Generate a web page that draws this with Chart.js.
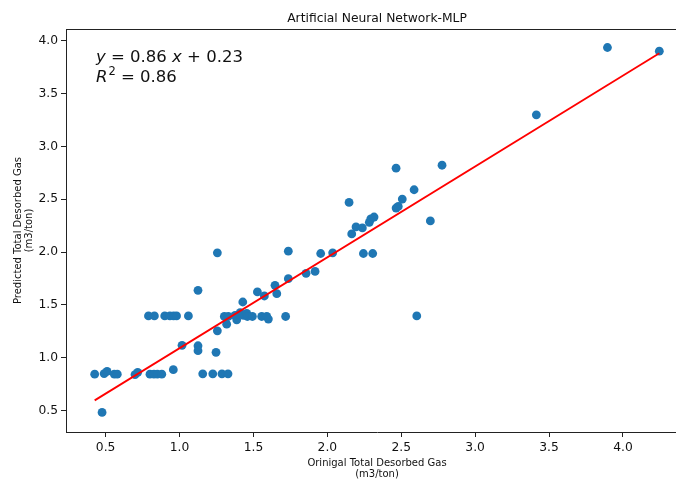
<!DOCTYPE html>
<html>
<head>
<meta charset="utf-8">
<script src="https://cdn.jsdelivr.net/npm/chart.js@4"></script>
<style>
  html, body { margin: 0; padding: 0; background: #fff; overflow: hidden; }
  #wrap { width: 676px; height: 479px; position: relative; overflow: hidden; }
</style>
</head>
<body>
<div id="wrap"><canvas id="c" width="700" height="479"></canvas></div>
<script>
// Original vs. predicted total desorbed gas (m3/ton)
const originalGas = [
  0.426, 0.49, 0.51, 0.559, 0.579, 0.476, 0.699, 0.717, 0.80, 0.827, 0.85, 0.88, 0.958, 1.017,
  0.79, 0.83, 0.90, 0.935, 0.96, 0.98, 1.06,
  1.256, 1.125, 1.125, 1.125, 1.157, 1.225, 1.287, 1.328, 1.247, 1.256, 1.319, 1.303, 1.33, 1.387, 1.428, 1.41,
  1.376, 1.432, 1.455, 1.459, 1.493, 1.556, 1.59, 1.601, 1.718,
  1.736, 1.955, 2.036, 1.856, 1.917, 1.736, 1.646, 1.527, 1.658, 1.574,
  2.147, 2.165, 2.194, 2.237, 2.244, 2.307, 2.284, 2.294, 2.316,
  2.465, 2.465, 2.48, 2.507, 2.587, 2.605, 2.697, 2.776, 3.414, 3.895, 4.246
];
const predictedGas = [
  0.844, 0.85, 0.87, 0.844, 0.844, 0.482, 0.84, 0.862, 0.844, 0.844, 0.844, 0.844, 0.887, 1.117,
  1.395, 1.395, 1.395, 1.395, 1.395, 1.395, 1.395,
  1.992, 1.637, 1.113, 1.066, 0.847, 0.847, 0.847, 0.847, 1.051, 1.254, 1.317, 1.39, 1.39, 1.358, 1.527, 1.427,
  1.40, 1.40, 1.42, 1.39, 1.39, 1.39, 1.39, 1.365, 1.39,
  2.008, 1.986, 1.992, 1.798, 1.816, 1.748, 1.685, 1.622, 1.606, 1.584,
  2.469, 2.171, 2.237, 2.228, 1.986, 1.986, 2.281, 2.313, 2.331,
  2.793, 2.416, 2.431, 2.501, 2.589, 1.395, 2.294, 2.821, 3.298, 3.935, 3.90
];

// Linear fit shown on the chart
const fitSlope = 0.86;
const fitIntercept = 0.23;
const fitR2 = 0.86;

// Axis tick labels
const xTickValues = [0.5, 1.0, 1.5, 2.0, 2.5, 3.0, 3.5, 4.0];
const yTickValues = [0.5, 1.0, 1.5, 2.0, 2.5, 3.0, 3.5, 4.0];

const titleText = 'Artificial Neural Network-MLP';
const xTitleLines = ['Orinigal Total Desorbed Gas', '(m3/ton)'];
const yTitleLines = ['Predicted Total Desorbed Gas', '(m3/ton)'];

const points = originalGas.map((x, i) => ({ x: x, y: predictedGas[i] }));
const xLo = Math.min(...originalGas);
const xHi = Math.max(...originalGas);
const fitLine = [xLo, xHi].map(x => ({ x: x, y: fitSlope * x + fitIntercept }));

const FONT = '"DejaVu Sans", sans-serif';

const textPlugin = {
  id: 'figureText',
  afterDraw(chart) {
    const ctx = chart.ctx;
    const a = chart.chartArea;
    const cx = (a.left + a.right) / 2;
    const cy = (a.top + a.bottom) / 2;
    ctx.save();
    // top spine
    ctx.strokeStyle = '#222';
    ctx.lineWidth = 1;
    ctx.beginPath();
    ctx.moveTo(a.left, a.top + 0.5);
    ctx.lineTo(chart.width, a.top + 0.5);
    ctx.stroke();

    ctx.fillStyle = '#111';
    // title
    ctx.font = '12.3px ' + FONT;
    ctx.textAlign = 'center';
    ctx.textBaseline = 'alphabetic';
    ctx.fillText(titleText, cx, 21.5);

    // x axis title
    ctx.font = '10px ' + FONT;
    ctx.fillText(xTitleLines[0], cx, 466);
    ctx.fillText(xTitleLines[1], cx, 477);

    // y axis title
    ctx.save();
    ctx.translate(0, cy);
    ctx.rotate(-Math.PI / 2);
    ctx.fillText(yTitleLines[0], 0, 21);
    ctx.fillText(yTitleLines[1], 0, 32);
    ctx.restore();

    // fit equation
    ctx.textAlign = 'left';
    const size = 16.5;
    const normal = size + 'px ' + FONT;
    const italic = 'italic ' + size + 'px ' + FONT;
    let x = 96, y = 62;
    const parts = [
      [italic, 'y'], [normal, ' = ' + fitSlope.toFixed(2) + ' '], [italic, 'x'],
      [normal, ' + ' + fitIntercept.toFixed(2)]
    ];
    parts.forEach(([f, t]) => {
      ctx.font = f;
      ctx.fillText(t, x, y);
      x += ctx.measureText(t).width;
    });
    x = 96; y = 82;
    ctx.font = italic;
    ctx.fillText('R', x, y);
    x += ctx.measureText('R').width + 1;
    ctx.font = '11.5px ' + FONT;
    ctx.fillText('2', x, y - 7);
    x += ctx.measureText('2').width;
    ctx.font = normal;
    ctx.fillText(' = ' + fitR2.toFixed(2), x, y);
    ctx.restore();
  }
};

new Chart(document.getElementById('c'), {
  type: 'scatter',
  data: {
    datasets: [
      {
        type: 'line',
        data: fitLine,
        borderColor: '#ff0000',
        borderWidth: 1.8,
        pointRadius: 0,
        fill: false,
        order: 0
      },
      {
        data: points,
        backgroundColor: '#1f77b4',
        borderColor: '#1f77b4',
        borderWidth: 0,
        pointRadius: 4.4,
        pointHoverRadius: 4.4,
        order: 1
      }
    ]
  },
  options: {
    responsive: false,
    animation: false,
    devicePixelRatio: 1,
    layout: { padding: { left: 0, top: 29, right: 12, bottom: 0 } },
    plugins: { legend: { display: false }, tooltip: { enabled: false }, title: { display: false } },
    scales: {
      x: {
        type: 'linear',
        min: 0.232,
        max: 4.44,
        afterBuildTicks: s => { s.ticks = xTickValues.map(v => ({ value: v })); },
        afterFit: s => { s.height = 47; },
        grid: { display: true, drawOnChartArea: false, drawTicks: true, tickLength: 5, color: '#222' },
        border: { display: true, color: '#222', width: 1 },
        ticks: {
          color: '#111', font: { family: FONT, size: 12.3 }, padding: 3,
          maxRotation: 0, autoSkip: false,
          callback: v => v.toFixed(1)
        }
      },
      y: {
        type: 'linear',
        min: 0.297,
        max: 4.11,
        afterBuildTicks: s => { s.ticks = yTickValues.map(v => ({ value: v })); },
        afterFit: s => { s.width = 66; },
        grid: { display: true, drawOnChartArea: false, drawTicks: true, tickLength: 5, color: '#222' },
        border: { display: true, color: '#222', width: 1 },
        ticks: {
          color: '#111', font: { family: FONT, size: 12.3 }, padding: 3,
          autoSkip: false,
          callback: v => v.toFixed(1)
        }
      }
    }
  },
  plugins: [textPlugin]
});
</script>
</body>
</html>
